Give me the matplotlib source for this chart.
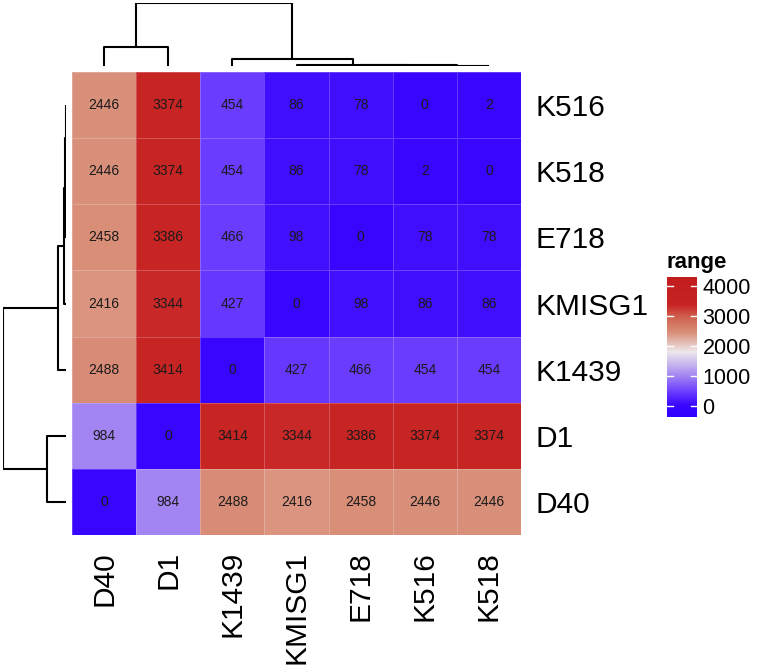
import numpy as np
import matplotlib
matplotlib.use("Agg")
import matplotlib.pyplot as plt
from matplotlib.colors import LinearSegmentedColormap, Normalize
from matplotlib.transforms import blended_transform_factory

plt.rcParams['font.family'] = ['Liberation Sans', 'DejaVu Sans']

# ---- data ----
names = ["D40", "D1", "K1439", "KMISG1", "E718", "K516", "K518"]
dist_D40 = [0, 984, 2488, 2416, 2458, 2446, 2446]
dist_D1 = [984, 0, 3414, 3344, 3386, 3374, 3374]
dist_K1439 = [2488, 3414, 0, 427, 466, 454, 454]
dist_KMISG1 = [2416, 3344, 427, 0, 98, 86, 86]
dist_E718 = [2458, 3386, 466, 98, 0, 78, 78]
dist_K516 = [2446, 3374, 454, 86, 78, 0, 2]
dist_K518 = [2446, 3374, 454, 86, 78, 2, 0]

col_order = ["D40", "D1", "K1439", "KMISG1", "E718", "K516", "K518"]
row_order = ["K516", "K518", "E718", "KMISG1", "K1439", "D1", "D40"]  # top to bottom

cbar_ticks = [0, 1000, 2000, 3000, 4000]
cbar_title = "range"

M = np.array([dist_D40, dist_D1, dist_K1439, dist_KMISG1, dist_E718, dist_K516, dist_K518], dtype=float)
idx = {n: i for i, n in enumerate(names)}
H = np.array([[M[idx[r], idx[c]] for c in col_order] for r in row_order])

# ---- colour scale ----
vmin, vmax = -370, 4300
anchors = [(-370, '#3000FF'), (0, '#3805FF'), (454, '#6a3cff'), (984, '#a284f2'),
           (1800, '#eee8ec'), (2446, '#d9907a'), (3000, '#cf5f4c'), (3374, '#c72424'),
           (4300, '#c21d1d')]
cmap = LinearSegmentedColormap.from_list(
    'rng', [((v - vmin) / (vmax - vmin), c) for v, c in anchors])
norm = Normalize(vmin=vmin, vmax=vmax)


# ---- hierarchical clustering (complete linkage, euclidean) ----
def complete_linkage(X):
    n = len(X)
    D = np.sqrt(((X[:, None, :] - X[None, :, :]) ** 2).sum(-1))
    clusters = {i: [i] for i in range(n)}
    merges = []
    nxt = n
    while len(clusters) > 1:
        keys = list(clusters)
        best = None
        for a in range(len(keys)):
            for b in range(a + 1, len(keys)):
                d = max(D[i, j] for i in clusters[keys[a]] for j in clusters[keys[b]])
                if best is None or d < best[0]:
                    best = (d, keys[a], keys[b])
        d, a, b = best
        merges.append((a, b, d))
        clusters[nxt] = clusters.pop(a) + clusters.pop(b)
        nxt += 1
    return merges


def draw_dendro(ax, merges, leaf_pos, orient):
    pos = dict(leaf_pos)
    hgt = {k: 0.0 for k in leaf_pos}
    nxt = len(leaf_pos)
    for a, b, d in merges:
        xs = [pos[a], pos[a], pos[b], pos[b]]
        ys = [hgt[a], d, d, hgt[b]]
        if orient == 'top':
            ax.plot(xs, ys, color='black', lw=1.5, solid_capstyle='butt')
        else:
            ax.plot(ys, xs, color='black', lw=1.5, solid_capstyle='butt')
        pos[nxt] = (pos[a] + pos[b]) / 2
        hgt[nxt] = d
        nxt += 1
    return max(d for _, _, d in merges)


merges = complete_linkage(M)

W, Hpx = 757, 670
fig = plt.figure(figsize=(W / 100, Hpx / 100), dpi=100)


def fx(x0, x1):
    return x0 / W, (x1 - x0) / W


def fy(y0, y1):
    return (Hpx - y1) / Hpx, (y1 - y0) / Hpx


hl, hw = fx(72, 521)
hb, hh = fy(72, 535)
ax = fig.add_axes([hl, hb, hw, hh])
ax.pcolormesh(np.arange(len(col_order) + 1) - 0.5, np.arange(len(row_order) + 1) - 0.5, H,
              cmap=cmap, norm=norm, edgecolors=(1, 1, 1, 0.22), linewidth=0.6)
ax.set_xlim(-0.5, len(col_order) - 0.5)
ax.set_ylim(len(row_order) - 0.5, -0.5)
for r in range(len(row_order)):
    for c in range(len(col_order)):
        ax.text(c, r, f"{int(H[r, c])}", ha='center', va='center', fontsize=10, color='#1a1a1a')
ax.set_xticks(range(len(col_order)))
ax.set_xticklabels(col_order, rotation=90, fontsize=21.5)
ax.set_yticks(range(len(row_order)))
ax.set_yticklabels(row_order, fontsize=21.5)
ax.yaxis.tick_right()
ax.tick_params(axis='both', length=0)
ax.tick_params(axis='x', pad=11.5)
ax.tick_params(axis='y', pad=10.5)
for s in ax.spines.values():
    s.set_visible(False)

# top dendrogram
tl, tw = fx(72, 521)
tb, th = fy(3, 66)
axt = fig.add_axes([tl, tb, tw, th])
root = draw_dendro(axt, merges, {idx[n]: i for i, n in enumerate(col_order)}, 'top')
axt.set_xlim(-0.5, len(col_order) - 0.5)
axt.set_ylim(0, root)
axt.axis('off')

# left dendrogram
ll, lw_ = fx(3.3, 65.7)
lb, lh = fy(72, 535)
axl = fig.add_axes([ll, lb, lw_, lh])
draw_dendro(axl, merges, {idx[n]: i for i, n in enumerate(row_order)}, 'left')
axl.set_ylim(len(row_order) - 0.5, -0.5)
axl.set_xlim(root, 0)
axl.axis('off')

# colour bar
cl, cw = fx(667, 697)
cb_, ch = fy(277, 417)
cax = fig.add_axes([cl, cb_, cw, ch])
grad = np.linspace(vmin, vmax, 400).reshape(-1, 1)
cax.imshow(grad, aspect='auto', cmap=cmap, norm=norm, origin='lower',
           extent=[0, 1, vmin, vmax])
cax.set_xlim(0, 1)
cax.set_ylim(vmin, vmax)
cax.set_xticks([])
cax.yaxis.tick_right()
cax.set_yticks(cbar_ticks)
cax.set_yticklabels([str(t) for t in cbar_ticks], fontsize=15.5)
cax.tick_params(axis='y', length=0, pad=4)
for s in cax.spines.values():
    s.set_visible(False)
tr = blended_transform_factory(cax.transAxes, cax.transData)
for t in cbar_ticks:
    cax.plot([0, 0.2], [t, t], color='white', lw=1.0, transform=tr)
    cax.plot([0.8, 1.0], [t, t], color='white', lw=1.0, transform=tr)
fig.text(667 / W, 1 - 268 / Hpx, cbar_title, fontsize=16, fontweight='bold',
         ha='left', va='baseline')

fig.savefig('out.png', dpi=100)
